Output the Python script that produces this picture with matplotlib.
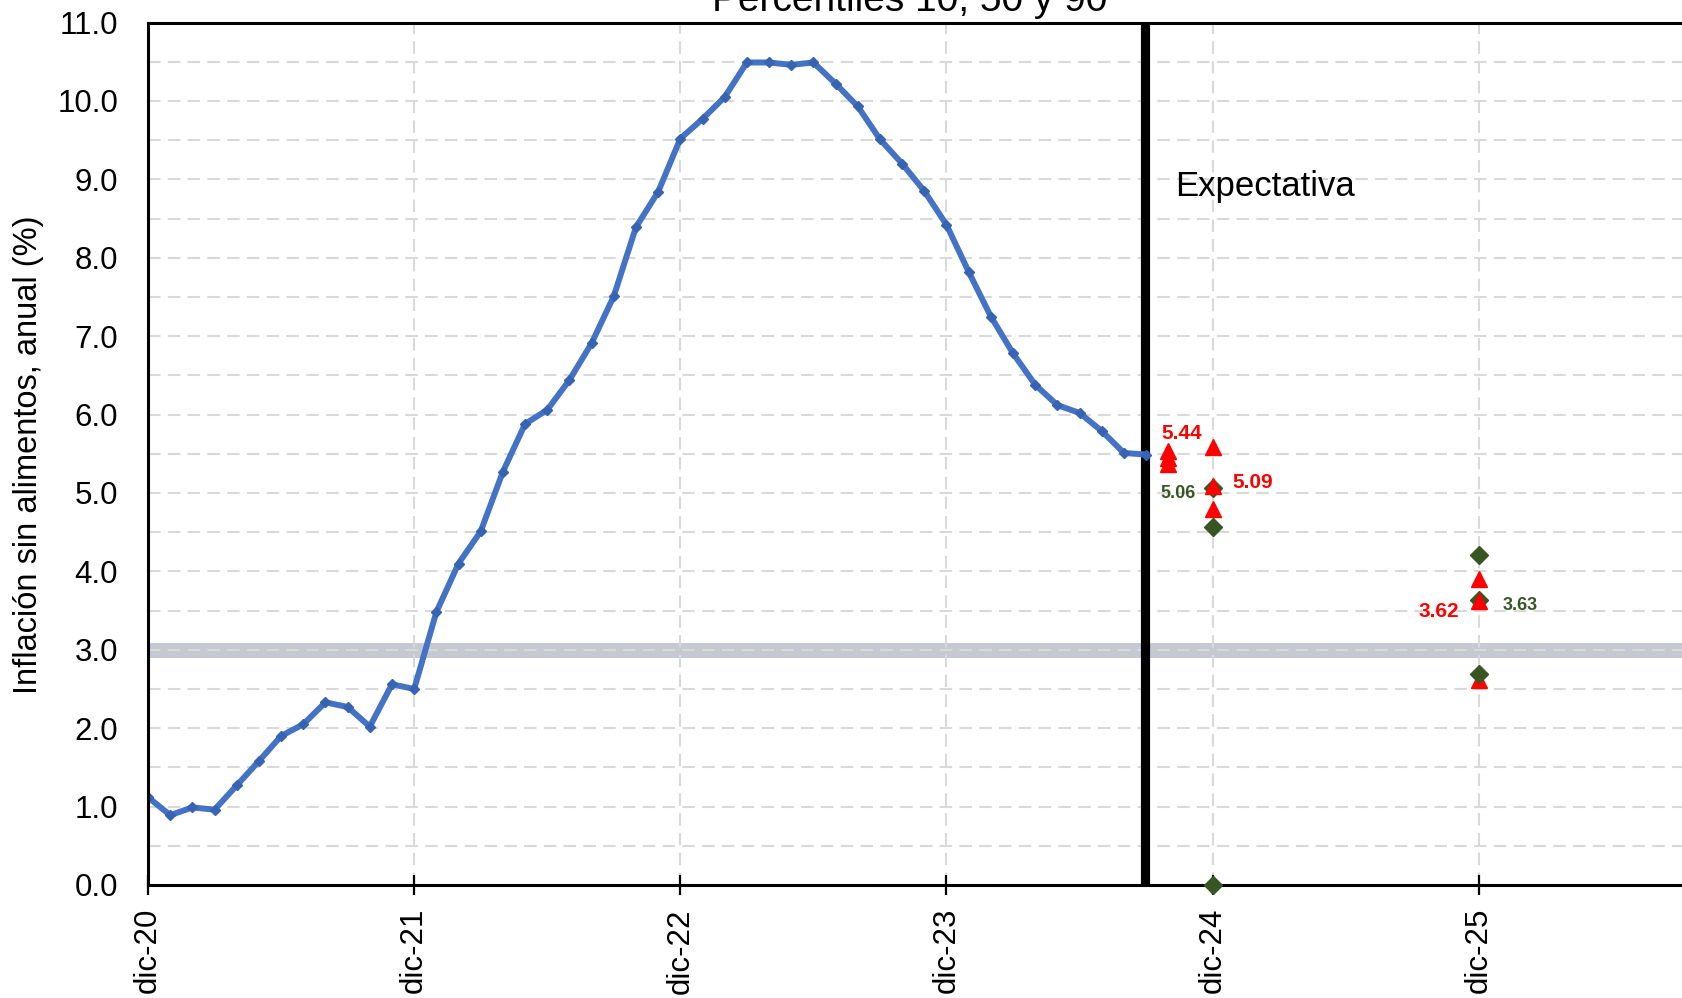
import matplotlib
matplotlib.use("Agg")
import matplotlib.pyplot as plt
import numpy as np

plt.rcParams["font.family"] = ["Liberation Sans", "DejaVu Sans"]

# --- data -------------------------------------------------------------------
# monthly annual inflation, dic-20 onwards (month index 0 = dic-20)
core = [1.12, 0.89, 0.99, 0.96, 1.27, 1.58, 1.90, 2.05, 2.33, 2.27, 2.02, 2.56,
        2.50, 3.48, 4.10, 4.51, 5.27, 5.88, 6.06, 6.44, 6.91, 7.51, 8.39, 8.84,
        9.52, 9.77, 10.05, 10.49, 10.49, 10.46, 10.49, 10.22, 9.93, 9.51, 9.20, 8.85,
        8.42, 7.82, 7.25, 6.78, 6.38, 6.12, 6.02, 5.79, 5.51, 5.49]

# survey expectations (month index of the horizon)
red_x = [46, 48, 60]
red_p90 = [5.54, 5.59, 3.90]
red_p50 = [5.44, 5.09, 3.62]
red_p10 = [5.37, 4.79, 2.61]

green_x = [48, 60]
green_p90 = [0.0, 4.21]
green_p50 = [5.06, 3.63]
green_p10 = [4.57, 2.69]

tick_pos = [0, 12, 24, 36, 48, 60]
tick_lbl = ["dic-20", "dic-21", "dic-22", "dic-23", "dic-24", "dic-25"]
target = 3.0
cut_month = 44.95

RED = "#ff0000"
GREEN = "#375623"
BLUE = "#4472c4"

W, H = 1683, 998
fig = plt.figure(figsize=(W / 100, H / 100), dpi=100)
# plot area runs past the right edge of the picture, as in the reference
ax = fig.add_axes([148 / W, 113 / H, 1597 / W, 862.5 / H])

ax.set_xlim(0, 72)
ax.set_ylim(0, 11)

# grid
ax.set_yticks(np.arange(0, 11.01, 1.0))
ax.set_yticks(np.arange(0.5, 11, 1.0), minor=True)
ax.set_xticks(tick_pos)
ax.set_xticklabels(tick_lbl, rotation=90)
ax.set_yticklabels([f"{v:.1f}" for v in np.arange(0, 11.01, 1.0)])
ax.grid(True, which="both", axis="y", color="#d9d9d9", lw=1.5, ls=(0, (6, 3.5)), zorder=0.5)
ax.grid(True, which="major", axis="x", color="#d9d9d9", lw=1.5, ls=(0, (6, 3.5)), zorder=0.5)
ax.set_axisbelow(True)

ax.axhline(target, color="#c5c9d1", lw=10.8, zorder=0.3)
ax.axvline(cut_month, color="black", lw=6.6, zorder=2)

ax.plot(np.arange(len(core)), core, color=BLUE, lw=4.3, marker="D", ms=5.5,
        mfc="#3763b3", mec="#3763b3", zorder=3)

tri = dict(ls="none", marker="^", ms=11.5, color=RED)
dia = dict(ls="none", marker="D", ms=9.5, color=GREEN, clip_on=False)
ax.plot(red_x, red_p10, zorder=4, **tri)
ax.plot(green_x, green_p10, zorder=5, **dia)
ax.plot(green_x, green_p50, zorder=5, **dia)
ax.plot(green_x, green_p90, zorder=5, **dia)
ax.plot(red_x, red_p90, zorder=6, **tri)
ax.plot(red_x, red_p50, zorder=6, **tri)

# data labels for the medians
red_off = [(9.5, 19.4), (29.1, 4.2), (-28.7, -6.3)]
for x, v, off in zip(red_x, red_p50, red_off):
    ax.annotate(f"{v:.2f}", (x, v), xytext=off, textcoords="offset points",
                ha="center", va="center_baseline", color=RED, fontsize=15,
                fontweight="bold", zorder=7)
green_off = [(-24.9, -2.4), (29.7, -1.9)]
for x, v, off in zip(green_x, green_p50, green_off):
    ax.annotate(f"{v:.2f}", (x, v), xytext=off, textcoords="offset points",
                ha="center", va="center_baseline", color=GREEN, fontsize=13,
                fontweight="bold", zorder=7)

ax.text(46.3, 8.79, "Expectativa", fontsize=25, ha="left", va="baseline")

for side in ("left", "top", "bottom", "right"):
    ax.spines[side].set_linewidth(2.2)
    ax.spines[side].set_zorder(3.5)

ax.tick_params(axis="y", which="both", length=0, pad=21.5, labelsize=22.5)
ax.tick_params(axis="x", which="major", direction="inout", length=14.4, width=1.6,
               pad=9.4, labelsize=22.5)

fig.text(29 / W, 1 - 455 / H, "Inflación sin alimentos, anual (%)", rotation=90,
         ha="center", va="center", fontsize=23.5)
fig.text(910 / W, 1 - 11 / H, "Percentiles 10, 50 y 90", ha="center", va="baseline",
         fontsize=28)

fig.savefig("out.png", dpi=100)
